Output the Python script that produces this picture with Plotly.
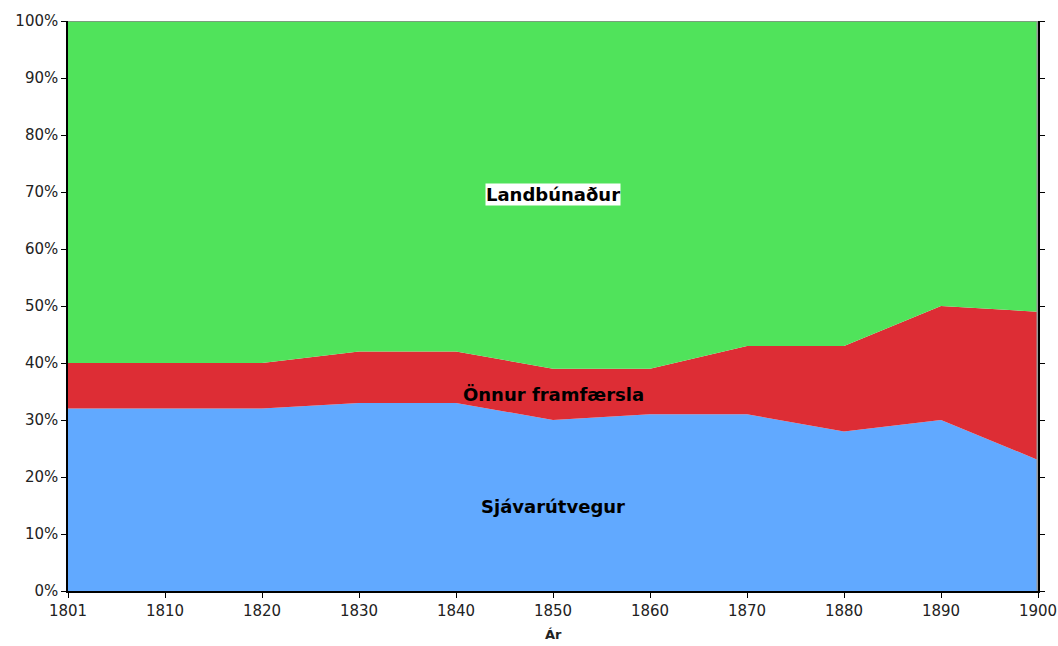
import plotly.graph_objects as go

years = ["1801", "1810", "1820", "1830", "1840", "1850", "1860", "1870", "1880", "1890", "1900"]
sjavarutvegur = [32, 32, 32, 33, 33, 30, 31, 31, 28, 30, 23]
onnur = [8, 8, 8, 9, 9, 9, 8, 12, 15, 20, 26]
landbunadur = [100 - a - b for a, b in zip(sjavarutvegur, onnur)]
y_ticks = [0, 10, 20, 30, 40, 50, 60, 70, 80, 90, 100]
y_ticklabels = [f"{v}%" for v in y_ticks]

xs = list(range(len(years)))
fig = go.Figure()
series = [
    ("Sjávarútvegur", sjavarutvegur, "rgb(97,169,255)"),
    ("Önnur framfærsla", onnur, "rgb(221,45,53)"),
    ("Landbúnaður", landbunadur, "rgb(80,227,91)"),
]
for name, vals, col in series:
    fig.add_trace(go.Scatter(
        x=xs, y=vals, name=name, stackgroup="one", mode="lines",
        line=dict(width=0, color=col), fillcolor=col, hoverinfo="skip",
    ))

font = "DejaVu Sans, Verdana, sans-serif"
fig.update_layout(
    width=1058, height=646,
    margin=dict(l=68, r=20, t=21, b=55, autoexpand=False),
    paper_bgcolor="white", plot_bgcolor="white",
    showlegend=False,
    font=dict(family=font, size=15, color="#222"),
    xaxis=dict(
        range=[0, len(years) - 1], tickvals=xs, ticktext=years,
        showgrid=False, zeroline=False, automargin=False,
        showline=True, linecolor="black", linewidth=1.5,
        ticks="outside", ticklen=5, tickcolor="black",
        tickfont=dict(family=font, size=15, color="#222"),
    ),
    yaxis=dict(
        range=[0, 100], tickvals=y_ticks, ticktext=y_ticklabels,
        showgrid=False, zeroline=False, automargin=False,
        showline=True, linecolor="black", linewidth=1.5, mirror="ticks",
        ticks="outside", ticklen=5, tickcolor="black",
        tickfont=dict(family=font, size=15, color="#222"),
    ),
    shapes=[
        dict(type="line", xref="x", yref="y", x0=0, x1=len(years) - 1, y0=100, y1=100,
             line=dict(color="#888", width=1.5), layer="above"),
        dict(type="line", xref="x", yref="y", x0=len(years) - 1, x1=len(years) - 1, y0=0, y1=100,
             line=dict(color="#999", width=3), layer="above"),
    ],
    annotations=[
        dict(x=5, y=69.5, xref="x", yref="y", text="<b>Landbúnaður</b>", showarrow=False,
             font=dict(family=font, size=18, color="black"), bgcolor="white", borderpad=0),
        dict(x=5, y=34.4, xref="x", yref="y", text="<b>Önnur framfærsla</b>", showarrow=False,
             font=dict(family=font, size=18, color="black")),
        dict(x=5, y=14.9, xref="x", yref="y", text="<b>Sjávarútvegur</b>", showarrow=False,
             font=dict(family=font, size=18, color="black")),
        dict(x=0.5, y=-0.076, xref="paper", yref="paper", text="<b>Ár</b>", showarrow=False,
             yanchor="middle", font=dict(family=font, size=13, color="#222")),
    ],
)
fig.write_html(
    "out.html",
    config={"displayModeBar": False},
    post_script="document.body.style.margin='0';document.body.style.overflow='hidden';",
)
